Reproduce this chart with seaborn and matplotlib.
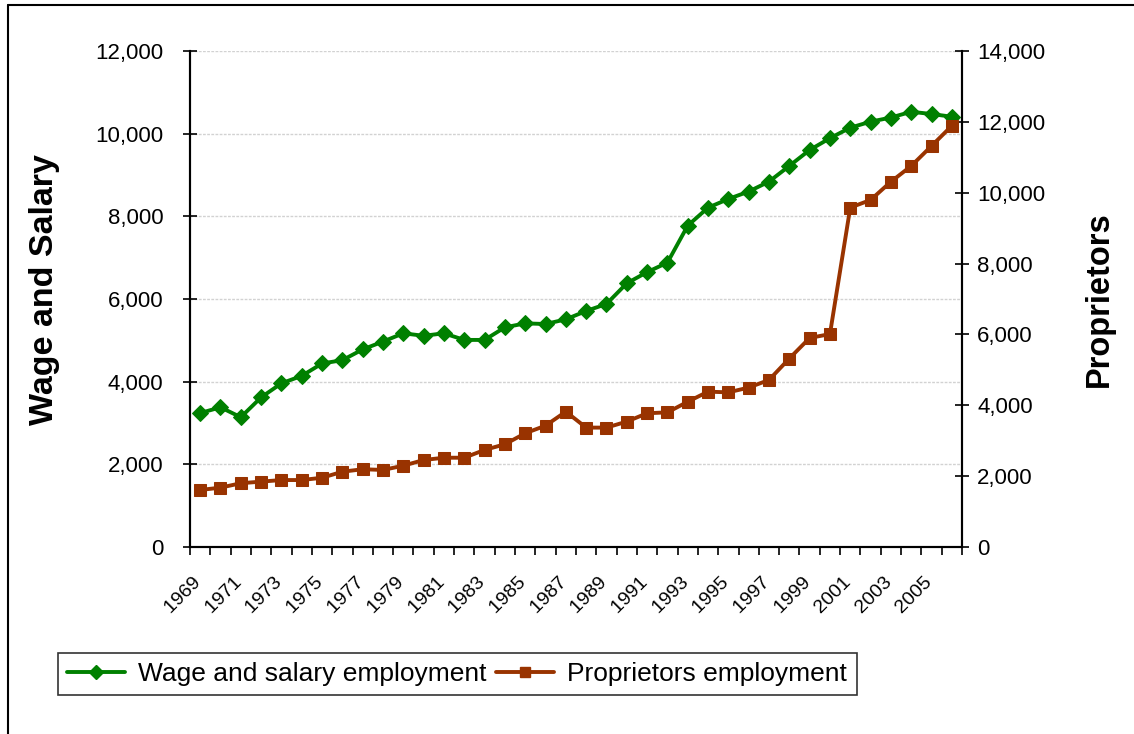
import numpy as np
import pandas as pd
import matplotlib
matplotlib.use("Agg")
import matplotlib.pyplot as plt
import seaborn as sns
from matplotlib.lines import Line2D
from matplotlib.ticker import FuncFormatter

years = list(range(1969, 2007))
wage_salary = [3240, 3380, 3140, 3620, 3960, 4140, 4440, 4520, 4780, 4970,
               5170, 5110, 5170, 5010, 5010, 5315, 5410, 5395, 5508, 5710,
               5880, 6380, 6650, 6880, 7775, 8210, 8420, 8600, 8840, 9220,
               9605, 9890, 10145, 10290, 10390, 10530, 10475, 10410]
proprietors = [1610, 1675, 1800, 1845, 1890, 1890, 1955, 2125, 2195, 2175,
               2295, 2455, 2520, 2520, 2740, 2900, 3210, 3425, 3820, 3370,
               3370, 3540, 3775, 3800, 4100, 4385, 4365, 4500, 4715, 5320,
               5900, 6010, 9580, 9795, 10310, 10755, 11320, 11890]
left_ticks = [0, 2000, 4000, 6000, 8000, 10000, 12000]
right_ticks = [0, 2000, 4000, 6000, 8000, 10000, 12000, 14000]
label_years = [str(y) for y in range(1969, 2006, 2)]

df = pd.DataFrame({"pos": np.arange(len(years)), "year": years,
                   "wage": wage_salary, "prop": proprietors})

sns.set_theme(style="white")
plt.rcParams['font.family'] = ['Liberation Sans', 'DejaVu Sans']
for k in ("text.color", "axes.labelcolor", "xtick.color", "ytick.color"):
    plt.rcParams[k] = "black"

fig = plt.figure(figsize=(11.34, 7.34), dpi=100)
ax = fig.add_axes([190/1134, 1-547/734, (962-190)/1134, (547-51)/734])
ax2 = ax.twinx()

green = "#008000"
brown = "#993300"

sns.lineplot(data=df, x="pos", y="wage", ax=ax, color=green, lw=2.8,
             marker="D", markersize=8, markeredgecolor=green, legend=False)
sns.lineplot(data=df, x="pos", y="prop", ax=ax2, color=brown, lw=2.8,
             marker="s", markersize=8, markeredgecolor=brown, legend=False)

fmt = FuncFormatter(lambda v, p: f"{int(v):,}")
ax.set_ylim(0, 12000)
ax.set_yticks(left_ticks)
ax.yaxis.set_major_formatter(fmt)
ax2.set_ylim(0, 14000)
ax2.set_yticks(right_ticks)
ax2.yaxis.set_major_formatter(fmt)

ax.set_xlim(-0.5, len(years) - 0.5)
ax.set_xticks(np.arange(0, len(years), 2))
ax.set_xticklabels([y + "  " for y in label_years], rotation=45, ha="right",
                   rotation_mode="anchor", fontsize=14)
ax.set_xticks(np.arange(-0.5, len(years), 1), minor=True)
ax.tick_params(axis="x", which="major", length=0, pad=14)
ax.tick_params(axis="x", which="minor", length=6, width=1.2, color="black", bottom=True)
ax.tick_params(axis="y", which="major", length=10, width=1.2, direction="inout",
               labelsize=16, pad=14, color="black", left=True)
ax2.tick_params(axis="y", which="major", length=10, width=1.2, direction="inout",
                labelsize=16, pad=6, color="black", right=True)

ax.yaxis.grid(True, color="#d2d2d2", lw=1, linestyle=(0, (2, 1)))
ax.set_axisbelow(True)

for a in (ax, ax2):
    a.spines["top"].set_visible(False)
    for s in ("left", "right", "bottom"):
        a.spines[s].set_color("black")
        a.spines[s].set_linewidth(1.5)
    a.set_xlabel("")
    a.set_ylabel("")

ax.set_ylabel("Wage and Salary", fontsize=24.5, fontweight="bold")
ax2.set_ylabel("Proprietors", fontsize=23.5, fontweight="bold")
ax.yaxis.set_label_coords(-0.168, 0.52)
ax2.yaxis.set_label_coords(1.158, 0.5)

handles = [Line2D([], [], color=green, lw=2.8, marker="D", markersize=7),
           Line2D([], [], color=brown, lw=2.8, marker="s", markersize=7)]
leg = fig.legend(handles, ["Wage and salary employment", "Proprietors employment"],
                 loc="center left", bbox_to_anchor=(58/1134, 1-674/734), ncol=2,
                 fontsize=19, frameon=True, fancybox=False,
                 edgecolor="black", handlelength=2.2, columnspacing=0.35,
                 handletextpad=0.5, borderpad=0.35, borderaxespad=0)
leg.get_frame().set_linewidth(1.2)

x0 = 8/1134
ytop = 1 - 5/734
fig.add_artist(Line2D([x0, x0], [0, ytop], color="black", lw=1.5, transform=fig.transFigure))
fig.add_artist(Line2D([x0, 1], [ytop, ytop], color="black", lw=1.5, transform=fig.transFigure))

fig.savefig("out.png", dpi=100)
